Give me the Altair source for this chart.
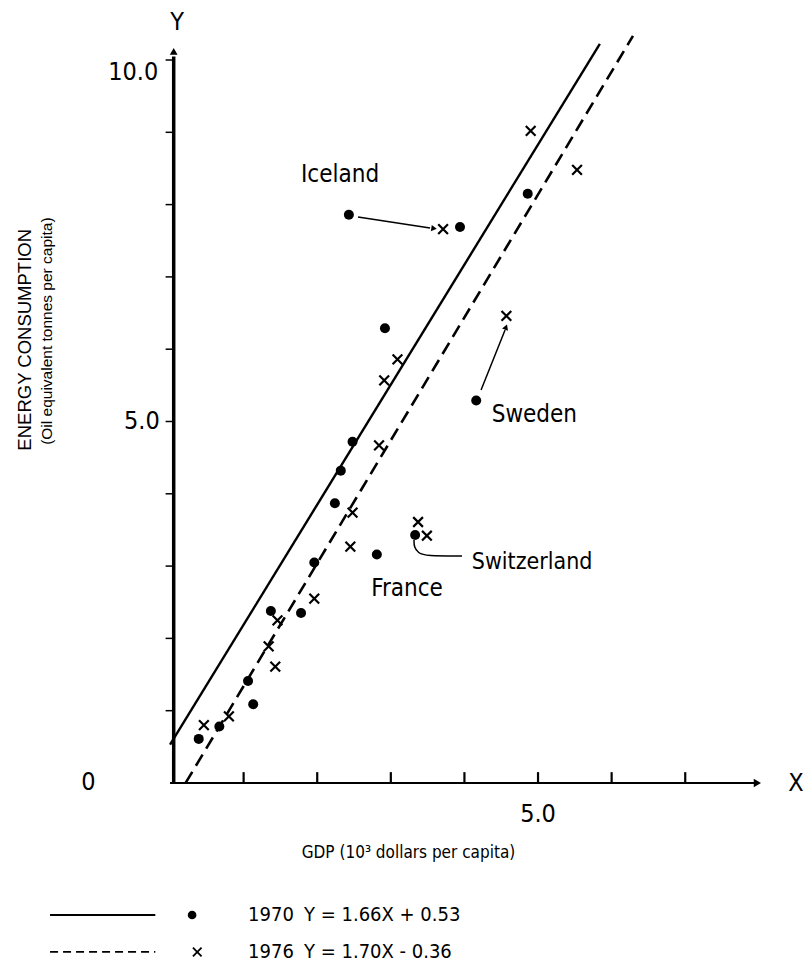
import altair as alt
import pandas as pd

# ---------------- data ----------------
gdp_1970 = [2.43, 3.94, 2.92, 4.16, 2.48, 2.32, 2.24, 2.81, 3.33, 1.96, 1.37, 1.78, 1.06, 1.13, 0.67, 0.39, 4.86]
energy_1970 = [7.86, 7.69, 6.29, 5.29, 4.72, 4.32, 3.87, 3.16, 3.43, 3.05, 2.38, 2.35, 1.41, 1.09, 0.78, 0.61, 8.15]
gdp_1976 = [3.71, 3.09, 2.91, 4.57, 2.84, 2.48, 2.45, 3.37, 3.49, 1.96, 1.46, 1.34, 1.43, 0.80, 0.46, 4.90, 5.53]
energy_1976 = [7.66, 5.86, 5.57, 6.46, 4.67, 3.74, 3.27, 3.61, 3.42, 2.55, 2.25, 1.89, 1.61, 0.92, 0.80, 9.02, 8.48]

fit_years = ["1970", "1976"]
fit_slope = [1.66, 1.70]
fit_intercept = [0.53, -0.36]
fit_x_start = [0.0, 0.212]
fit_x_end = [5.84, 6.29]
fit_labels = ["Y = 1.66X + 0.53", "Y = 1.70X - 0.36"]

x_ticks = [1, 2, 3, 4, 5, 6, 7]
y_ticks = [1, 2, 3, 4, 5, 6, 7, 8, 9, 10]

country_names = ["Iceland", "Sweden", "France"]
country_x = [2.31, 4.95, 3.22]
country_y = [8.41, 5.09, 2.68]

X_DOM = [-2.31, 8.60]
Y_DOM = [-2.656, 10.83]

FONT_N = "DejaVu Sans Condensed, Liberation Sans Narrow, Arial Narrow, sans-serif"
FONT_R = "Liberation Sans, Arial, sans-serif"
CROSS = "M-1,-1L1,1M-1,1L1,-1"

xs = alt.Scale(domain=X_DOM, nice=False, zero=False)
ys = alt.Scale(domain=Y_DOM, nice=False, zero=False)


def enc(c, extra=None):
    e = dict(x=alt.X("x:Q", scale=xs, axis=None), y=alt.Y("y:Q", scale=ys, axis=None))
    if extra:
        e.update(extra)
    return c.encode(**e)


def seg(df, **kw):
    return alt.Chart(df).mark_rule(color="black", **kw).encode(
        x=alt.X("x:Q", scale=xs, axis=None), y=alt.Y("y:Q", scale=ys, axis=None),
        x2="x2:Q", y2="y2:Q")


def txt(df, **kw):
    return alt.Chart(df).mark_text(color="black", **kw).encode(
        x=alt.X("x:Q", scale=xs, axis=None), y=alt.Y("y:Q", scale=ys, axis=None),
        text="t:N")


layers = []

# axes
layers.append(seg(pd.DataFrame({"x": [0.05], "y": [0], "x2": [0.05], "y2": [10.05]}), strokeWidth=3.5))
layers.append(seg(pd.DataFrame({"x": [0], "y": [0], "x2": [7.95], "y2": [0]}), strokeWidth=1.8))
layers.append(seg(pd.DataFrame({"x": x_ticks, "y": [0] * len(x_ticks), "x2": x_ticks,
                                "y2": [0.15] * len(x_ticks)}), strokeWidth=2.2))
layers.append(seg(pd.DataFrame({"x": [-0.06] * len(y_ticks), "y": y_ticks, "x2": [0.05] * len(y_ticks),
                                "y2": y_ticks}), strokeWidth=1.5))
layers.append(enc(alt.Chart(pd.DataFrame({"x": [7.98], "y": [0]})).mark_point(
    shape="triangle-right", filled=True, color="black", size=70, opacity=1)))
layers.append(enc(alt.Chart(pd.DataFrame({"x": [0.05], "y": [10.12]})).mark_point(
    shape="triangle-up", filled=True, color="black", size=60, opacity=1)))

# regression lines
for i, yr in enumerate(fit_years):
    x0, x1 = fit_x_start[i], fit_x_end[i]
    df = pd.DataFrame({"x": [x0], "y": [fit_slope[i] * x0 + fit_intercept[i]],
                       "x2": [x1], "y2": [fit_slope[i] * x1 + fit_intercept[i]]})
    if yr == "1970":
        layers.append(seg(df, strokeWidth=2.4))
    else:
        layers.append(seg(df, strokeWidth=2.6, strokeDash=[13, 7]))

# points
layers.append(enc(alt.Chart(pd.DataFrame({"x": gdp_1970, "y": energy_1970})).mark_point(
    shape="circle", filled=True, color="black", size=100, opacity=1)))
layers.append(enc(alt.Chart(pd.DataFrame({"x": gdp_1976, "y": energy_1976})).mark_point(
    shape=CROSS, filled=False, color="black", size=95, strokeWidth=2.2, opacity=1)))

# annotation arrows
layers.append(seg(pd.DataFrame({"x": [2.554, 4.226], "y": [7.828, 5.436],
                                "x2": [3.533, 4.552], "y2": [7.676, 6.266]}), strokeWidth=1.5))
layers.append(enc(alt.Chart(pd.DataFrame({"x": [3.587], "y": [7.67]})).mark_point(
    shape="triangle-up", filled=True, color="black", size=40, angle=98, opacity=1)))
layers.append(enc(alt.Chart(pd.DataFrame({"x": [4.565], "y": [6.307]})).mark_point(
    shape="triangle-up", filled=True, color="black", size=40, angle=21, opacity=1)))
hook = pd.DataFrame({"x": [3.315, 3.315, 3.37, 3.478, 3.967],
                     "y": [3.361, 3.264, 3.181, 3.14, 3.14], "o": [0, 1, 2, 3, 4]})
layers.append(enc(alt.Chart(hook).mark_line(color="black", strokeWidth=1.5, interpolate="basis"),
                  {"order": "o:Q"}))

# country labels
layers.append(txt(pd.DataFrame({"x": country_x, "y": country_y, "t": country_names}),
                  font=FONT_N, fontSize=24, align="center", baseline="middle"))
layers.append(txt(pd.DataFrame({"x": [4.10], "y": [3.06], "t": ["Switzerland"]}),
                  font=FONT_N, fontSize=23, align="left", baseline="middle"))

# tick labels / axis letters
layers.append(txt(pd.DataFrame({"x": [-0.14, -0.16], "y": [5.0, 9.84], "t": ["5.0", "10.0"]}),
                  font=FONT_N, fontSize=25, align="right", baseline="middle"))
layers.append(txt(pd.DataFrame({"x": [5.0, -1.11, 8.505, 0.095], "y": [-0.43, 0.02, 0.0, 10.53],
                                "t": ["5.0", "0", "X", "Y"]}),
                  font=FONT_N, fontSize=25, align="center", baseline="middle"))

# axis titles
layers.append(txt(pd.DataFrame({"x": [3.24], "y": [-0.968], "t": ["GDP (10³ dollars per capita)"]}),
                  font=FONT_N, fontSize=17, align="center", baseline="middle"))
layers.append(txt(pd.DataFrame({"x": [-1.97], "y": [6.13], "t": ["ENERGY  CONSUMPTION"]}),
                  font=FONT_R, fontSize=18.5, angle=270, align="center", baseline="middle"))
layers.append(txt(pd.DataFrame({"x": [-1.67], "y": [6.25], "t": ["(Oil equivalent tonnes per capita)"]}),
                  font=FONT_R, fontSize=15.5, angle=270, align="center", baseline="middle"))

# legend
leg_y = [-1.826, -2.337]
layers.append(seg(pd.DataFrame({"x": [-1.63], "y": [leg_y[0]], "x2": [-0.20], "y2": [leg_y[0]]}),
                  strokeWidth=1.8))
layers.append(seg(pd.DataFrame({"x": [-1.63], "y": [leg_y[1]], "x2": [-0.20], "y2": [leg_y[1]]}),
                  strokeWidth=1.8, strokeDash=[8, 5]))
layers.append(enc(alt.Chart(pd.DataFrame({"x": [0.30], "y": [leg_y[0]]})).mark_point(
    shape="circle", filled=True, color="black", size=75, opacity=1)))
layers.append(enc(alt.Chart(pd.DataFrame({"x": [0.37], "y": [leg_y[1]]})).mark_point(
    shape=CROSS, filled=False, color="black", size=75, strokeWidth=1.8, opacity=1)))
layers.append(txt(pd.DataFrame({"x": [1.06, 1.06], "y": leg_y, "t": fit_years}),
                  font=FONT_N, fontSize=20, align="left", baseline="middle"))
layers.append(txt(pd.DataFrame({"x": [1.82, 1.82], "y": leg_y, "t": fit_labels}),
                  font=FONT_N, fontSize=20, align="left", baseline="middle"))

chart = alt.layer(*layers).properties(
    width=803, height=975, autosize=alt.AutoSizeParams(type="none"), padding=0
).configure_view(strokeWidth=0)

chart.save("out.html", embed_options={"renderer": "svg", "actions": False})
